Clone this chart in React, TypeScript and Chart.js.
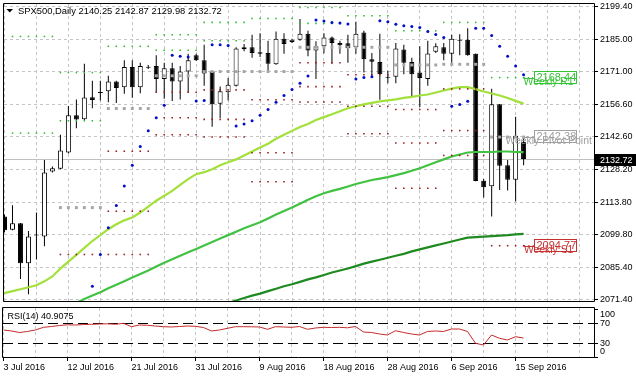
import React, { useEffect, useRef } from 'react';
import { Chart, registerables } from 'chart.js';

Chart.register(...registerables);

// ---------------- data ----------------
const chartTitle = 'SPX500,Daily 2140.25 2142.87 2129.98 2132.72';
const rsiTitle = 'RSI(14) 40.9075';
const dateTickLabels = ['3 Jul 2016', '12 Jul 2016', '21 Jul 2016', '31 Jul 2016', '9 Aug 2016', '18 Aug 2016', '28 Aug 2016', '6 Sep 2016', '15 Sep 2016'];
const dateTickEvery = 8;
const gridEvery = 4;
const priceTickValues = [2199.4, 2185.0, 2171.0, 2156.6, 2142.6, 2128.2, 2113.8, 2099.8, 2085.4, 2071.4];
const rsiTickValues = [100, 70, 30, 0];
const rsiLevelValues = [70, 30];
const bidPrice = 2132.72;

const openPrices = [2107.60, 2101.78, 2104.58, 2087.04, 2099.63, 2098.85, 2127.30, 2128.50, 2135.62, 2151.99,
  2150.14, 2159.88, 2162.12, 2162.47, 2166.78, 2164.19, 2173.11, 2164.19, 2173.20, 2173.54,
  2167.81, 2172.55, 2166.78, 2171.09, 2178.28, 2176.00, 2171.09, 2157.03, 2162.03, 2164.92,
  2181.73, 2181.73, 2179.57, 2179.27, 2174.27, 2185.48, 2184.01, 2185.05, 2187.63, 2180.31,
  2182.16, 2186.04, 2183.58, 2183.45, 2181.73, 2188.19, 2176.43, 2175.27, 2168.80, 2168.80,
  2180.74, 2175.27, 2170.65, 2167.81, 2179.79, 2181.73, 2178.84, 2185.05, 2185.05, 2178.84,
  2123.25, 2120.83, 2156.73, 2130.01, 2123.68, 2140.25];
const highPrices = [2108.46, 2112.47, 2104.70, 2101.27, 2109.33, 2132.30, 2129.45, 2143.37, 2156.00, 2158.89,
  2174.53, 2167.08, 2167.08, 2169.23, 2167.08, 2176.00, 2176.00, 2174.96, 2173.97, 2178.28,
  2174.96, 2174.96, 2173.54, 2178.84, 2178.84, 2182.89, 2171.30, 2164.49, 2168.24, 2181.73,
  2183.15, 2187.20, 2187.89, 2184.62, 2188.63, 2187.89, 2185.48, 2194.10, 2188.93, 2184.32,
  2187.89, 2186.47, 2184.62, 2187.20, 2192.94, 2188.93, 2179.27, 2187.63, 2171.39, 2183.58,
  2182.89, 2177.12, 2182.16, 2184.62, 2183.45, 2183.58, 2187.20, 2187.46, 2190.05, 2179.00,
  2123.98, 2163.50, 2156.90, 2132.30, 2151.26, 2142.87];
const lowPrices = [2100.71, 2101.57, 2080.15, 2073.55, 2088.77, 2094.54, 2126.87, 2128.29, 2135.18, 2146.26,
  2149.84, 2155.01, 2158.46, 2157.60, 2157.29, 2161.34, 2159.62, 2161.60, 2172.25, 2162.03,
  2159.19, 2158.16, 2158.89, 2162.03, 2175.70, 2164.92, 2146.95, 2150.70, 2158.46, 2164.49,
  2180.01, 2177.12, 2177.42, 2171.39, 2174.10, 2178.84, 2183.58, 2184.62, 2177.85, 2167.81,
  2179.14, 2174.53, 2178.84, 2174.96, 2178.84, 2170.65, 2168.24, 2158.76, 2165.91, 2165.91,
  2169.96, 2159.88, 2155.57, 2164.92, 2179.27, 2176.00, 2174.96, 2178.28, 2178.07, 2123.00,
  2115.92, 2107.60, 2119.24, 2118.94, 2114.20, 2129.98];
const closePrices = [2101.57, 2104.58, 2087.04, 2098.85, 2099.20, 2126.87, 2128.72, 2136.48, 2151.99, 2150.05,
  2159.75, 2158.67, 2161.67, 2166.78, 2163.93, 2173.11, 2164.19, 2173.54, 2172.75, 2167.81,
  2172.55, 2166.78, 2171.09, 2176.00, 2176.00, 2170.22, 2156.73, 2162.47, 2165.35, 2181.17,
  2180.87, 2179.27, 2178.84, 2174.53, 2185.48, 2183.15, 2185.05, 2187.63, 2180.31, 2182.16,
  2186.04, 2183.58, 2182.59, 2181.43, 2187.63, 2176.43, 2175.39, 2169.96, 2168.35, 2181.17,
  2174.96, 2169.96, 2168.24, 2179.01, 2182.16, 2178.84, 2185.48, 2184.60, 2178.28, 2123.12,
  2120.40, 2156.73, 2129.80, 2123.68, 2142.94, 2132.72];

// moving averages (yellow-green fast, green medium, dark green slow)
const maFast = [2073.98, 2074.85, 2075.71, 2076.57, 2077.43, 2079.16, 2081.31, 2084.76, 2087.78, 2090.79,
  2093.81, 2096.83, 2099.41, 2102.00, 2104.15, 2105.88, 2107.17, 2109.33, 2111.91, 2114.50,
  2116.65, 2118.81, 2121.39, 2123.98, 2126.13, 2127.00, 2128.29, 2130.01, 2131.31, 2132.60,
  2134.32, 2136.05, 2137.77, 2139.49, 2141.65, 2143.37, 2145.10, 2146.82, 2148.11, 2149.84,
  2151.13, 2152.42, 2153.72, 2155.01, 2155.87, 2156.73, 2157.38, 2158.03, 2158.46, 2158.89,
  2159.53, 2159.97, 2160.61, 2161.04, 2161.91, 2162.77, 2163.63, 2164.28, 2164.28, 2163.41,
  2162.34, 2161.47, 2160.61, 2159.53, 2158.24, 2157.03];
const maMid = [null, null, null, null, null, null, null, null,
  2068.38, 2069.67, 2071.40, 2072.91, 2074.42, 2076.14, 2077.65, 2079.16, 2080.88, 2082.39,
  2083.90, 2085.62, 2087.35, 2088.85, 2090.36, 2091.87, 2093.38, 2094.89, 2096.40, 2097.90,
  2099.41, 2100.92, 2102.43, 2103.72, 2105.02, 2106.74, 2108.46, 2109.97, 2111.48, 2113.20,
  2114.93, 2116.44, 2117.73, 2118.81, 2119.67, 2120.75, 2121.82, 2122.69, 2123.55, 2124.19,
  2124.84, 2125.70, 2126.56, 2127.64, 2128.72, 2130.01, 2131.31, 2132.60, 2133.89, 2134.75,
  2135.61, 2135.83, 2135.83, 2135.83, 2136.05, 2136.05, 2135.83, 2135.74];
const maSlow = [null, null, null, null, null, null, null, null, null, null,
  null, null, null, null, null, null, null, null, null, null,
  null, null, null, null, null, null, null, null,
  2069.67, 2070.75, 2071.83, 2072.91, 2073.77, 2074.85, 2075.92, 2077.00, 2077.86, 2078.94,
  2080.02, 2080.88, 2081.96, 2083.04, 2083.90, 2084.76, 2085.84, 2086.91, 2087.78, 2088.64,
  2089.50, 2090.36, 2091.22, 2092.30, 2093.16, 2094.03, 2094.89, 2095.75, 2096.61, 2097.47,
  2098.34, 2098.55, 2098.77, 2098.98, 2099.20, 2099.41, 2099.71, 2099.97];

// parabolic SAR
const sarValues = [null, null, null, null, null, null, null, null, null, null, null,
  2077.00, 2090.92, 2102.64, 2112.34, 2120.96, 2130.01, 2138.20, 2145.10, 2150.83, 2156.30,
  2178.28, 2177.85, 2177.42, 2158.16, 2158.46, 2182.89, 2182.89, 2182.46, 2147.25, 2148.11,
  2149.54, 2151.99, 2154.49, 2157.60, 2160.61, 2163.20, 2165.91, 2169.15, 2193.67, 2193.24,
  2192.63, 2192.38, 2191.94, 2167.81, 2168.50, 2168.80, 2193.37, 2192.94, 2191.77, 2191.21,
  2190.78, 2190.35, 2188.63, 2187.33, 2186.04, 2155.87, 2156.65, 2158.03, 2190.05, 2190.05,
  2186.90, 2182.16, 2177.85, 2173.54, 2169.66];

// RSI(14)
const rsiValues = [57.6, 55.5, 52.4, 54.5, 57.6, 63.1, 64.8, 66.9, 68.3, 67.9,
  68.9, 69.4, 70.0, 70.4, 69.4, 71.4, 64.4, 67.9, 67.3, 65.8,
  64.4, 63.8, 64.8, 65.8, 65.2, 62.7, 55.5, 57.6, 61.1, 64.4,
  64.4, 64.2, 63.8, 59.0, 64.4, 63.8, 63.1, 64.8, 59.0, 61.7,
  63.1, 62.7, 63.1, 62.1, 64.8, 53.4, 52.4, 49.3, 47.2, 56.1,
  52.4, 49.3, 47.2, 54.5, 55.5, 54.5, 59.6, 59.6, 54.5, 30.0,
  26.5, 47.2, 40.4, 36.9, 43.7, 40.91];

// weekly pivot levels (one value per week segment)
const weekStartBars = [1, 7, 13, 19, 25, 31, 37, 43, 49, 55, 61];
const weekBars = 6;
const pivotR2 = [2186.47, 2170.65, null, 2187.20, 2192.63, null, 2199.20, null, null, null, null];
const pivotR1 = [2144.11, 2149.54, 2182.16, 2180.44, 2184.62, 2194.36, 2192.20, 2195.52, 2188.93, 2192.63, 2168.44];
const pivotP = [null, 2111.48, 2154.88, 2169.23, 2171.09, 2171.09, 2181.73, 2181.73, 2173.97, 2174.27, 2142.38];
const pivotS1 = [null, 2090.92, 2136.18, 2162.03, 2163.07, 2158.76, 2174.96, 2169.66, 2154.45, 2163.50, 2094.77];
const pivotS2 = [null, null, 2109.89, 2150.83, 2150.14, 2135.49, 2164.49, 2155.87, 2139.80, 2145.23, null];
const pivotS3 = [null, null, 2090.92, 2143.37, 2142.38, 2122.82, 2157.72, 2143.80, 2119.97, 2134.32, null];
const pivotTagNames = ['Weekly R1', 'Weekly Pivot Point', 'Weekly S1'];
const pivotTagValues = [2168.44, 2142.38, 2094.77];

// ---------------- layout / style ----------------
const W = 636;
const MAIN_H = 306;
const RSI_H = 73;
const PLOT_LEFT = 3;
const AXIS_W = 42;
const BAR_PX = 8;
const FIRST_BAR_X = 3.5;
const X_MIN = (PLOT_LEFT - FIRST_BAR_X) / BAR_PX;
const X_MAX = X_MIN + (W - AXIS_W - PLOT_LEFT) / BAR_PX;
const Y_MAX = 2200.693;
const Y_MIN = 2070.106;
const RSI_MAX = 103.1;
const RSI_MIN = -0.41;
const FONT = "'Liberation Sans', Arial, sans-serif";
const GRID = '#c4c4c4';
const GREEN_DOT = '#2ebd2e';
const RED_DOT = '#9a1c1c';
const GRAY_DOT = '#a6a6a6';
const TAG_COLORS = ['#35c435', '#a0a0a0', '#c83030'];

const idx = openPrices.map((_, i) => i);
const toPoints = (arr: (number | null)[]) =>
  arr.map((v, i) => (v == null ? null : { x: i, y: v })).filter((p) => p !== null);
const pivotPoints = (levels: (number | null)[]) => {
  const pts: any[] = [];
  weekStartBars.forEach((s, w) => {
    const v = levels[w];
    if (v == null) return;
    for (let j = 0; j < weekBars; j++) {
      const i = s + j;
      if (i < openPrices.length) pts.push({ x: i, y: v });
    }
  });
  return pts;
};

const zeroPad = (s: any) => {
  s.paddingLeft = 0; s.paddingRight = 0; s.paddingTop = 0; s.paddingBottom = 0;
};

const mainDecor = {
  id: 'mainDecor',
  beforeDatasetsDraw(chart: any) {
    const { ctx, chartArea: a, scales } = chart;
    const y = Math.round(scales.y.getPixelForValue(bidPrice)) + 0.5;
    ctx.save();
    ctx.strokeStyle = '#c0c0c0';
    ctx.lineWidth = 1;
    ctx.beginPath();
    ctx.moveTo(a.left, y);
    ctx.lineTo(a.right, y);
    ctx.stroke();
    ctx.restore();
  },
  afterDatasetsDraw(chart: any) {
    const { ctx, scales } = chart;
    const xLast = scales.x.getPixelForValue(openPrices.length - 1);
    ctx.save();
    pivotTagValues.forEach((v, k) => {
      const color = TAG_COLORS[k];
      const yv = scales.y.getPixelForValue(v);
      const yl = Math.round(yv) + 0.5;
      ctx.strokeStyle = color;
      ctx.lineWidth = 1;
      ctx.beginPath();
      ctx.moveTo(xLast, yl);
      ctx.lineTo(xLast + 11, yl);
      ctx.stroke();
      const bx = Math.round(xLast + 10) + 0.5;
      const by = Math.round(yv - 7) + 0.5;
      ctx.fillStyle = '#ffffff';
      ctx.fillRect(bx, by, 42, 12);
      ctx.strokeRect(bx, by, 42, 12);
      ctx.fillStyle = color;
      ctx.font = `11px ${FONT}`;
      ctx.textAlign = 'left';
      ctx.textBaseline = 'middle';
      ctx.fillText(v.toFixed(2), bx + 2, by + 6.5);
      ctx.font = `10.4px ${FONT}`;
      ctx.textAlign = 'center';
      ctx.textBaseline = 'top';
      ctx.fillText(pivotTagNames[k], xLast + 25, yv - 1);
    });
    ctx.restore();
  },
  afterDraw(chart: any) {
    const { ctx, chartArea: a, scales } = chart;
    ctx.save();
    ctx.strokeStyle = '#000';
    ctx.lineWidth = 1;
    ctx.beginPath();
    ctx.moveTo(a.left - 0.5, a.top - 0.5);
    ctx.lineTo(a.right + 0.5, a.top - 0.5);
    ctx.moveTo(a.left - 0.5, a.top - 0.5);
    ctx.lineTo(a.left - 0.5, a.bottom - 0.5);
    ctx.lineTo(a.right + 0.5, a.bottom - 0.5);
    ctx.moveTo(a.right + 0.5, a.top - 0.5);
    ctx.lineTo(a.right + 0.5, a.bottom - 0.5);
    ctx.stroke();
    // title
    ctx.fillStyle = '#000';
    ctx.beginPath();
    ctx.moveTo(6.5, 9);
    ctx.lineTo(13, 9);
    ctx.lineTo(9.75, 12.5);
    ctx.closePath();
    ctx.fill();
    ctx.font = `9.4px ${FONT}`;
    ctx.textAlign = 'left';
    ctx.textBaseline = 'middle';
    ctx.fillText(chartTitle, 18, 11);
    // bid price tag on axis
    const yb = scales.y.getPixelForValue(bidPrice);
    ctx.fillStyle = '#000';
    ctx.fillRect(a.right + 1, Math.round(yb - 5.5), W - a.right - 1, 12);
    ctx.fillStyle = '#fff';
    ctx.font = `9px ${FONT}`;
    ctx.fillText(bidPrice.toFixed(2), a.right + 6, Math.round(yb - 5.5) + 6.5);
    ctx.restore();
  },
};

const rsiDecor = {
  id: 'rsiDecor',
  afterDraw(chart: any) {
    const { ctx, chartArea: a, scales } = chart;
    ctx.save();
    ctx.strokeStyle = '#000';
    ctx.lineWidth = 1;
    ctx.beginPath();
    ctx.moveTo(a.left - 0.5, a.top - 0.5);
    ctx.lineTo(a.right + 0.5, a.top - 0.5);
    ctx.moveTo(a.left - 0.5, a.top - 0.5);
    ctx.lineTo(a.left - 0.5, a.bottom - 0.5);
    ctx.lineTo(a.right + 0.5, a.bottom - 0.5);
    ctx.moveTo(a.right + 0.5, a.top - 0.5);
    ctx.lineTo(a.right + 0.5, a.bottom - 0.5);
    ctx.stroke();
    ctx.fillStyle = '#000';
    ctx.font = `9px ${FONT}`;
    ctx.textAlign = 'left';
    ctx.textBaseline = 'middle';
    ctx.fillText(rsiTitle, 7.5, a.top + 9);
    rsiTickValues.forEach((v) => {
      const y = Math.min(Math.max(scales.y.getPixelForValue(v), a.top + 6.5), a.bottom - 6.5);
      ctx.fillText(String(v), a.right + 6, y);
    });
    ctx.restore();
  },
};

function buildMain(canvas: HTMLCanvasElement) {
  const datasets: any[] = [
    {
      type: 'bar', data: idx.map((i) => ({ x: i, y: [lowPrices[i], highPrices[i]] })),
      backgroundColor: '#000', borderWidth: 0, barThickness: 1, grouped: false, inflateAmount: 0, order: 6,
    },
    {
      type: 'bar', data: idx.map((i) => ({ x: i, y: [openPrices[i], closePrices[i]] })),
      backgroundColor: idx.map((i) => (closePrices[i] >= openPrices[i] ? '#ffffff' : '#000000')),
      borderColor: '#000', borderWidth: 1, borderSkipped: false, barThickness: 5, grouped: false,
      minBarLength: 1, inflateAmount: 0, order: 5,
    },
    { type: 'line', data: toPoints(maSlow), borderColor: '#1f8a1f', borderWidth: 2.2, pointRadius: 0, order: 4 },
    { type: 'line', data: toPoints(maMid), borderColor: '#42c242', borderWidth: 2.2, pointRadius: 0, order: 4 },
    { type: 'line', data: toPoints(maFast), borderColor: '#a2e03a', borderWidth: 2.2, pointRadius: 0, order: 4 },
  ];
  const dotSet = (levels: (number | null)[], color: string, r: number) => ({
    type: 'line', data: pivotPoints(levels), showLine: false, pointStyle: 'rect', pointRadius: r,
    pointBackgroundColor: color, pointBorderWidth: 0, order: 2,
  });
  datasets.push(dotSet(pivotR2, GREEN_DOT, 1.1));
  datasets.push(dotSet(pivotR1, GREEN_DOT, 1.1));
  datasets.push(dotSet(pivotS1, RED_DOT, 1.1));
  datasets.push(dotSet(pivotS2, RED_DOT, 1.1));
  datasets.push(dotSet(pivotS3, RED_DOT, 1.1));
  datasets.push(dotSet(pivotP, GRAY_DOT, 2.1));
  datasets.push({
    type: 'line', data: toPoints(sarValues), showLine: false, pointStyle: 'circle', pointRadius: 1.5,
    pointBackgroundColor: '#0010c8', pointBorderWidth: 0, order: 1,
  });

  return new Chart(canvas, {
    type: 'bar',
    data: { datasets },
    options: {
      animation: false, responsive: false, maintainAspectRatio: false, events: [],
      layout: { padding: { left: PLOT_LEFT, top: 2, right: 0, bottom: 1 } },
      plugins: { legend: { display: false }, tooltip: { enabled: false } },
      scales: {
        x: {
          type: 'linear', min: X_MIN, max: X_MAX, offset: false,
          afterBuildTicks: (s: any) => {
            const t = [];
            for (let v = 0; v <= X_MAX; v += gridEvery) t.push({ value: v });
            s.ticks = t;
          },
          afterFit: (s: any) => { s.height = 0; zeroPad(s); },
          ticks: { display: false, autoSkip: false },
          grid: { color: GRID, drawTicks: false, offset: false },
          border: { display: false, dash: [3, 3] },
        },
        y: {
          type: 'linear', position: 'right', min: Y_MIN, max: Y_MAX,
          afterBuildTicks: (s: any) => { s.ticks = priceTickValues.map((v) => ({ value: v })); },
          afterFit: (s: any) => { s.width = AXIS_W; zeroPad(s); },
          ticks: {
            autoSkip: false, padding: 2, color: '#000', font: { family: FONT, size: 9 },
            callback: (v: any) => Number(v).toFixed(2),
          },
          grid: { color: GRID, tickColor: '#000', tickLength: 4, tickBorderDash: [], drawTicks: true },
          border: { display: false, dash: [3, 3] },
        },
      },
    } as any,
    plugins: [mainDecor],
  } as any);
}

function buildRsi(canvas: HTMLCanvasElement) {
  const isLabelled = (v: number) => v % dateTickEvery === 0 && v / dateTickEvery < dateTickLabels.length;
  return new Chart(canvas, {
    type: 'line',
    data: {
      datasets: [
        { data: toPoints(rsiValues), borderColor: '#c42a2a', borderWidth: 1, pointRadius: 0 },
      ],
    },
    options: {
      animation: false, responsive: false, maintainAspectRatio: false, events: [],
      layout: { padding: { left: PLOT_LEFT, top: 2, right: 0, bottom: 0 } },
      plugins: { legend: { display: false }, tooltip: { enabled: false } },
      scales: {
        x: {
          type: 'linear', min: X_MIN, max: X_MAX, offset: false,
          afterBuildTicks: (s: any) => {
            const t = [];
            for (let v = 0; v <= X_MAX; v += gridEvery) t.push({ value: v });
            s.ticks = t;
          },
          afterFit: (s: any) => { s.height = RSI_H - 52; zeroPad(s); },
          ticks: {
            autoSkip: false, maxRotation: 0, minRotation: 0, align: 'start', padding: 1,
            color: '#000', font: { family: FONT, size: 9 },
            callback: (v: any) => (isLabelled(Number(v)) ? dateTickLabels[Number(v) / dateTickEvery] : ''),
          },
          grid: {
            color: GRID, drawTicks: true, tickLength: 3, tickBorderDash: [], offset: false,
            tickColor: (c: any) => (c.tick && isLabelled(c.tick.value) ? '#000' : 'rgba(0,0,0,0)'),
          },
          border: { display: false, dash: [3, 3] },
        },
        y: {
          type: 'linear', position: 'right', min: RSI_MIN, max: RSI_MAX,
          afterBuildTicks: (s: any) => { s.ticks = rsiTickValues.map((v) => ({ value: v })); },
          afterFit: (s: any) => { s.width = AXIS_W; zeroPad(s); },
          ticks: { display: false, autoSkip: false },
          grid: {
            color: (c: any) => (c.tick && rsiLevelValues.includes(c.tick.value) ? '#000' : 'rgba(0,0,0,0)'),
            tickColor: '#000', tickLength: 4, tickBorderDash: [], drawTicks: true,
          },
          border: { display: false, dash: [10, 5] },
        },
      },
    } as any,
    plugins: [rsiDecor],
  } as any);
}

export default function App() {
  const mainRef = useRef<HTMLCanvasElement>(null);
  const rsiRef = useRef<HTMLCanvasElement>(null);
  useEffect(() => {
    const c1 = buildMain(mainRef.current as HTMLCanvasElement);
    const c2 = buildRsi(rsiRef.current as HTMLCanvasElement);
    return () => { c1.destroy(); c2.destroy(); };
  }, []);
  return (
    <div style={{ position: 'absolute', left: 0, top: 0, width: W, height: MAIN_H + RSI_H, background: '#fff' }}>
      <canvas ref={mainRef} width={W} height={MAIN_H}
        style={{ position: 'absolute', left: 0, top: 0, width: W, height: MAIN_H }} />
      <canvas ref={rsiRef} width={W} height={RSI_H}
        style={{ position: 'absolute', left: 0, top: MAIN_H, width: W, height: RSI_H }} />
    </div>
  );
}
